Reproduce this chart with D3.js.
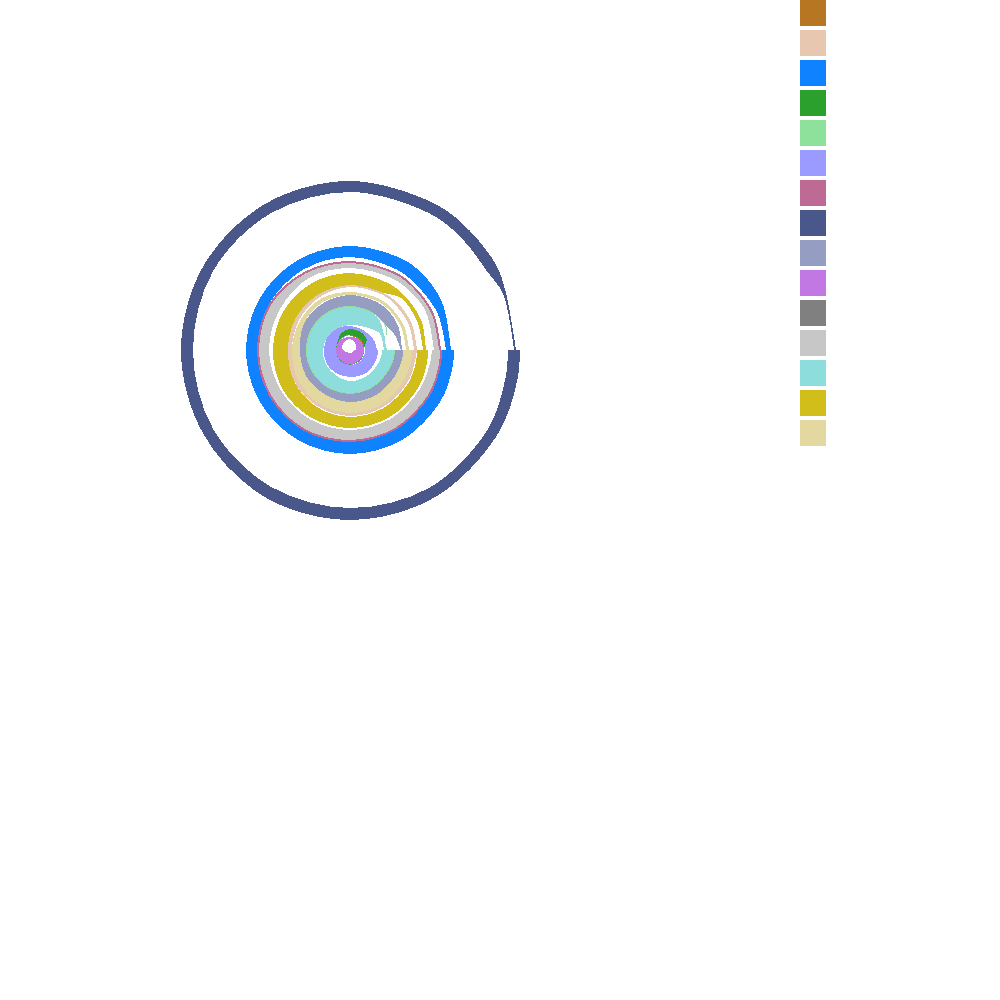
<!DOCTYPE html>
<html>
<head>
<meta charset="utf-8">
<script src="https://cdn.jsdelivr.net/npm/d3@7"></script>
<style>
  html, body { margin: 0; padding: 0; background: #fff; }
  svg { display: block; }
</style>
</head>
<body>
<svg id="chart" width="1000" height="1000"></svg>
<script>
// ---- data (angles in degrees clockwise from 12 o'clock; radial values) ----
const angles = [90, 100, 120, 150, 180, 210, 240, 270, 300, 330, 360, 390, 405, 420, 430, 450];

const seriesNames = ["S1", "S2", "S3", "S4", "S5", "S6", "S7", "S8", "S9", "S10", "S11", "S12", "S13", "S14", "S15"];

const s1Low  = [14, 14, 14, 14, 14, 14, 14, 14, 14, 14, 14, 14, 14, 14, 14, 14];
const s1High = [14, 14, 14, 14, 14, 14, 14, 14, 14, 14, 14.5, 17, 17, 16.5, 15, 14];
const s2Low  = [62, 61, 61, 61, 61, 60, 59, 58, 59, 61, 63, 64, 64, 64, 64, 64];
const s2High = [67, 66, 66, 66, 66, 65, 64, 62, 63, 64, 65, 66, 67, 67, 67, 67];
const s3Low  = [92, 92, 92, 92, 92, 93, 93, 93, 93, 93, 93, 93, 93, 94, 95, 96];
const s3High = [104, 104, 104, 104, 104, 104, 104, 104, 104, 104, 104, 105, 105, 104, 102, 101];
const s4Low  = [14, 14, 14, 14, 14, 14, 14, 14, 14, 15, 15, 15, 15, 15, 14.5, 14];
const s4High = [14, 14, 14.5, 14.6, 14.6, 14.5, 14.4, 14, 14.5, 18.5, 21, 21, 20.5, 19.5, 16, 14];
const s5Low  = [44, 44, 43, 43, 43, 43, 43, 43, 43, 43, 43, 43, 43, 42, 38, 36];
const s5High = [44.8, 44.8, 43.8, 43.8, 43.8, 43.8, 44, 44.2, 44.2, 44.2, 44.2, 44, 43.8, 42.8, 38.6, 36.6];
const s6Low  = [15, 15, 15, 15, 15, 14, 14, 13, 13, 14, 15, 17, 18, 17, 16, 15];
const s6High = [28, 28, 28, 28, 27, 27, 27, 26, 26, 25, 24, 24, 24, 25, 26, 27];
const s7Low  = [90, 90, 90, 90, 90, 91, 91, 91, 91, 88.5, 87, 88, 88.5, 89, 89, 89];
const s7High = [92, 92, 92, 92, 92, 93, 93, 93, 93, 90.5, 89, 90, 90.5, 91, 91, 91];
const s8Low  = [158, 158, 159, 159, 158, 158, 158, 157, 158, 158, 158, 158, 158, 158, 163, 164];
const s8High = [170, 170, 170, 170, 170, 170, 169, 169, 169, 169, 169, 169, 169, 169, 166, 166];
const s9Low  = [44.8, 44.8, 43.8, 43.8, 43.8, 43.8, 44, 44.2, 44.2, 44.2, 44.2, 44, 43.8, 44, 47, 51];
const s9High = [53, 53, 52, 52, 52, 51, 51, 50, 53, 54, 55, 55, 55, 54, 53, 52];
const s10Low  = [5, 4, 3, 3, 3, 3, 4, 7, 9, 10, 11, 9, 8, 7, 6, 6];
const s10High = [14, 14, 14, 14.5, 15, 14.5, 14, 14, 14, 13.5, 13, 14, 14, 14, 14, 14];
const s11Low  = [0, 0, 0, 0, 0, 0, 0, 0, 0, 0, 0, 0, 0, 0, 0, 0];
const s11High = [0, 0, 0, 0, 0, 0, 0, 0, 0, 0, 0, 0, 0, 0, 0, 0];
const s12Low  = [82, 81, 80, 80, 80, 80, 80, 81, 81, 83, 82, 83, 84, 85, 84, 84];
const s12High = [90, 90, 90, 90, 90, 91, 91, 91, 91, 88.5, 87, 88, 88.5, 89, 89, 89];
const s13Low  = [32, 32, 31, 31, 31, 29, 28, 27, 26, 25, 25, 27, 30, 34, 34, 34];
const s13High = [44, 44, 43, 43, 43, 43, 43, 43, 43, 43, 43, 43, 42, 38, 37, 36];
const s14Low  = [67, 67, 67, 67, 67, 66, 64, 62, 63, 64, 65, 66, 73, 73, 73, 73];
const s14High = [78, 78, 78, 78, 78, 78, 78, 77, 77, 77, 77, 77, 77, 77, 77, 76];
const s15Low  = [53, 53, 52, 52, 52, 51, 51, 50, 53, 55, 55, 56, 56, 56, 56, 56];
const s15High = [62, 62, 62, 63, 63, 62, 60, 58, 58, 59, 58, 59, 59, 59, 59, 59];

const colors = ["#b77622", "#e8c7b0", "#0f82ff", "#2ca02c", "#8ee19a", "#9a9aff", "#bd6a95",
                "#4a578a", "#959dc3", "#c278e3", "#808080", "#c7c7c7", "#8ddddc", "#d1be1a", "#e3d9a0"];

const lows  = [s1Low, s2Low, s3Low, s4Low, s5Low, s6Low, s7Low, s8Low, s9Low, s10Low, s11Low, s12Low, s13Low, s14Low, s15Low];
const highs = [s1High, s2High, s3High, s4High, s5High, s6High, s7High, s8High, s9High, s10High, s11High, s12High, s13High, s14High, s15High];

// ---- drawing ----
const svg = d3.select("#chart");
const cx = 350, cy = 350;

const angleScale = d3.scaleLinear().domain([0, 360]).range([0, 2 * Math.PI]);
const rScale = d3.scaleLinear().domain([0, 170]).range([0, 170]);
const color = d3.scaleOrdinal().domain(seriesNames).range(colors);

const series = seriesNames.map((name, i) => ({
  name,
  points: angles.map((a, j) => ({ angle: a, low: lows[i][j], high: highs[i][j] }))
}));

const area = d3.areaRadial()
  .angle(d => angleScale(d.angle))
  .innerRadius(d => rScale(d.low))
  .outerRadius(d => rScale(d.high))
  .curve(d3.curveCatmullRom.alpha(0.5));

// draw order: outer rings first, inner details on top
const drawOrder = [7, 2, 11, 6, 13, 1, 14, 8, 12, 4, 5, 9, 10, 0, 3];

svg.append("g")
  .attr("transform", `translate(${cx},${cy})`)
  .selectAll("path")
  .data(drawOrder.map(i => series[i]))
  .join("path")
  .attr("d", d => area(d.points))
  .attr("fill", d => color(d.name))
  .attr("shape-rendering", "crispEdges");

// legend (colour swatches only)
const legendY = d3.scaleBand().domain(seriesNames).range([0, 446]).paddingInner(4 / 30);
svg.append("g")
  .selectAll("rect")
  .data(seriesNames)
  .join("rect")
  .attr("x", 800)
  .attr("y", d => legendY(d))
  .attr("width", 26)
  .attr("height", 26)
  .attr("fill", d => color(d));
</script>
</body>
</html>
